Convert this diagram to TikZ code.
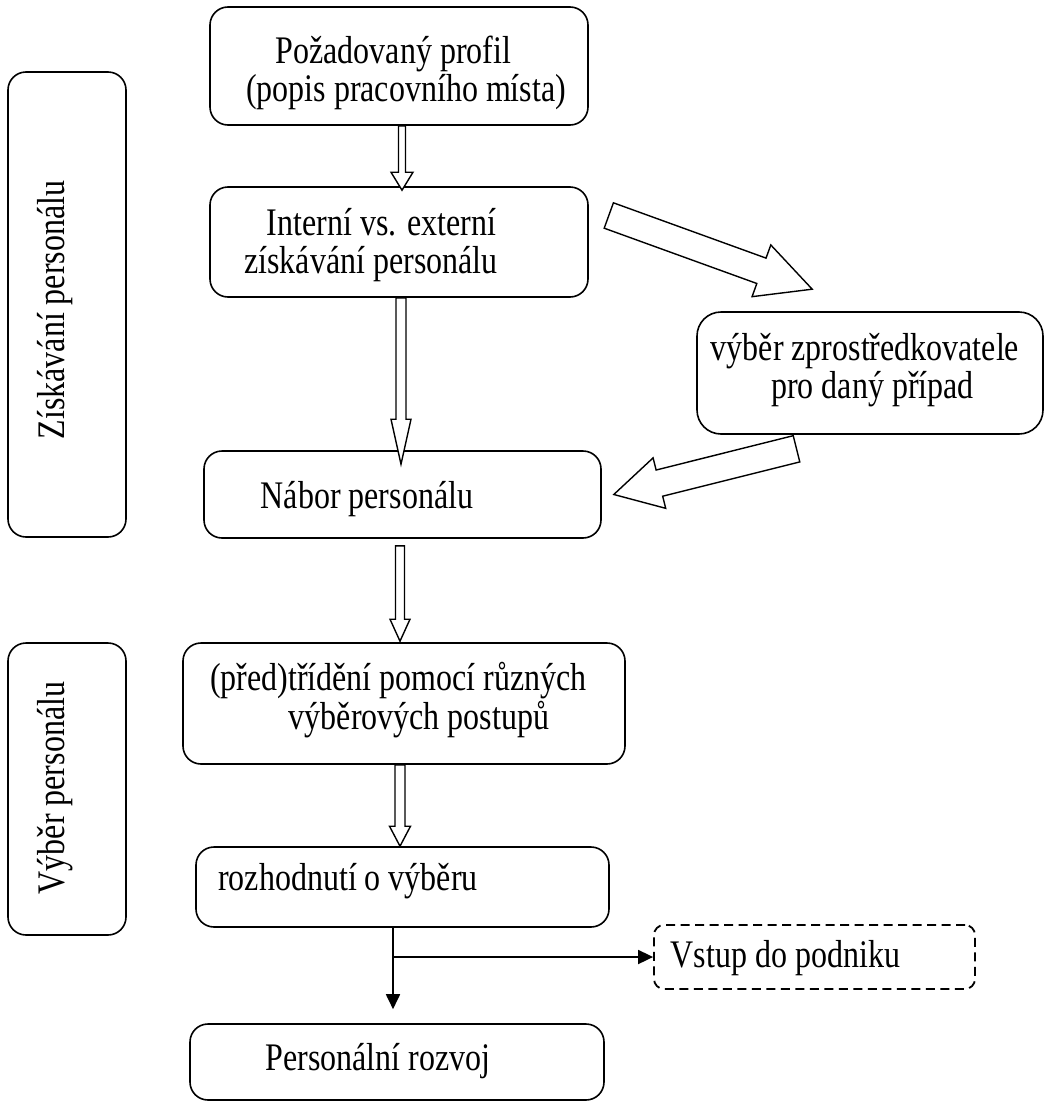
\documentclass[tikz,border=0pt]{standalone}
\usepackage{fontspec}
\usepackage{graphicx}
\setmainfont{Liberation Serif}
\usetikzlibrary{calc,arrows.meta}
\tikzset{
  box/.style={draw, line width=1.6pt, rounded corners=18pt, inner sep=0pt},
  dbox/.style={draw, line width=1.8pt, dash pattern=on 9pt off 5.5pt, rounded corners=10pt, inner sep=0pt},
  txt/.style={inner sep=0pt, anchor=base, font=\fontsize{32pt}{37pt}\selectfont},
  blkarrow/.style={draw, fill=white, line width=1.4pt, line join=miter},
  conn/.style={line width=1.8pt, -{Triangle[length=15pt,width=14pt]}},
}
\newcommand{\tall}[1]{\scalebox{1}[1.22]{#1}}
% #1 tail, #2 tip, #3 shaft half width, #4 head half width, #5 head length
\newcommand{\blockarrow}[5]{%
  \coordinate (hbtmp) at ($(#2)!#5!(#1)$);
  \draw[blkarrow] ($(#1)!#3!90:(#2)$) -- ($(hbtmp)!#3!-90:(#1)$) -- ($(hbtmp)!#4!-90:(#1)$)
    -- (#2) -- ($(hbtmp)!#4!90:(#1)$) -- ($(hbtmp)!#3!90:(#1)$) -- ($(#1)!#3!-90:(#2)$) -- cycle;
}
\begin{document}
\begin{tikzpicture}[x=1pt,y=-1pt]
\useasboundingbox (0,0) rectangle (1045,1103);

% boxes
\node[box, minimum width=378pt, minimum height=118pt] (b1) at (399,66) {};
\node[box, minimum width=378pt, minimum height=110pt] (b2) at (399,242) {};
\node[box, minimum width=346pt, minimum height=122pt, rounded corners=24pt] (b3) at (870,373) {};
\node[box, minimum width=397pt, minimum height=87pt] (b4) at (402.5,494.5) {};
\node[box, minimum width=442pt, minimum height=121pt] (b5) at (404,703.5) {};
\node[box, minimum width=413pt, minimum height=80pt] (b6) at (402.5,887) {};
\node[dbox, minimum width=321pt, minimum height=64pt] (bd) at (814.5,957) {};
\node[box, minimum width=414pt, minimum height=76pt] (b7) at (397,1062) {};
\node[box, minimum width=118pt, minimum height=465pt] (l1) at (67,304.5) {};
\node[box, minimum width=118pt, minimum height=292pt] (l2) at (67,789) {};

% texts
\node[txt] (t1a) at (393.5,63) {\tall{Požadovaný profil}};
\node[txt] (t1b) at (406,101) {\tall{(popis pracovního místa)}};
\node[txt] (t2a) at (381.5,235) {\tall{Interní vs. externí}};
\node[txt] (t2b) at (371,273) {\tall{získávání personálu}};
\node[txt] (t3a) at (865,360) {\tall{výběr zprostředkovatele}};
\node[txt] (t3b) at (872.5,398) {\tall{pro daný případ}};
\node[txt] (t4) at (367,508) {\tall{Nábor personálu}};
\node[txt] (t5a) at (398.5,690) {\tall{(před)třídění pomocí různých}};
\node[txt] (t5b) at (419,729) {\tall{výběrových postupů}};
\node[txt] (t6) at (348,890) {\tall{rozhodnutí o výběru}};
\node[txt] (td) at (785.5,967) {\tall{Vstup do podniku}};
\node[txt] (t7) at (378,1070) {\tall{Personální rozvoj}};
\node[txt, rotate=90] (tl1) at (64,310) {\tall{Získávání personálu}};
\node[txt, rotate=90] (tl2) at (64,788) {\tall{Výběr personálu}};

% block arrows
\coordinate (a1t) at ($(b1.south)+(3,0)$);
\coordinate (a1h) at ($(b2.north)+(3,4)$);
\blockarrow{a1t}{a1h}{3.5pt}{11pt}{18pt}

\coordinate (a2t) at ($(b2.south)+(2,0)$);
\coordinate (a2h) at ($(b4.north)+(-1.5,14)$);
\blockarrow{a2t}{a2h}{5pt}{10pt}{45pt}

\coordinate (a3t) at ($(b4.south)+(-2.5,7)$);
\coordinate (a3h) at ($(b5.north)+(-4,-1)$);
\blockarrow{a3t}{a3h}{4.5pt}{10pt}{22pt}

\coordinate (a4t) at ($(b5.south)+(-4,0)$);
\coordinate (a4h) at ($(b6.north)+(-2.5,0)$);
\blockarrow{a4t}{a4h}{5pt}{10.5pt}{20pt}

\coordinate (d1t) at ($(b2.east)+(20,-26.5)$);
\coordinate (d1h) at ($(b3.north west)+(116,-22)$);
\blockarrow{d1t}{d1h}{13.5pt}{27.5pt}{54pt}

\coordinate (d2t) at ($(b3.south)+(-73.5,14)$);
\coordinate (d2h) at ($(b4.east)+(12,0)$);
\blockarrow{d2t}{d2h}{13.5pt}{26pt}{47pt}

% plain connectors
\coordinate (c0) at ($(b6.south)+(-9.5,0)$);
\coordinate (c1) at ($(b7.north)+(-4,-14)$);
\draw[conn] (c0) -- (c1);
\coordinate (c2) at (c0 |- bd.west);
\draw[conn] (c2) -- (bd.west);
\end{tikzpicture}
\end{document}
